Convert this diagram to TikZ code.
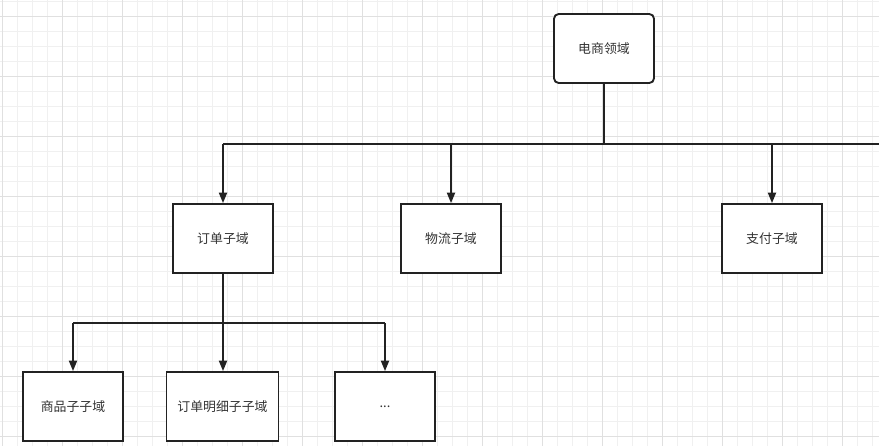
\documentclass[tikz,border=0pt]{standalone}
\usepackage{fontspec}
\newfontfamily\cjk{Noto Sans CJK SC}
\usetikzlibrary{arrows.meta,positioning}
\definecolor{gridminor}{HTML}{F0F0F0}
\definecolor{gridmajor}{HTML}{E0E0E0}
\definecolor{ink}{HTML}{222222}
\definecolor{txt}{HTML}{333333}
\tikzset{
  domainbox/.style={draw=ink, line width=1.6pt, fill=white, minimum width=3cm,
    minimum height=2.07cm, inner sep=0pt, font=\cjk\fontsize{11}{13}\selectfont, text=txt},
  link/.style={draw=ink, line width=1.4pt},
  arrow/.style={link, -{Triangle[length=9pt, width=7pt]}}
}
\begin{document}
\begin{tikzpicture}[x=0.03cm, y=-0.03cm]
  \useasboundingbox (0,0) rectangle (879,446);
  \fill[white] (0,0) rectangle (879,446);
  % Background grid
  \foreach \gx in {0,...,58} {
    \draw[gridminor, line width=0.7pt] (2.7+15*\gx,0) -- (2.7+15*\gx,446);
  }
  \foreach \gy in {0,...,29} {
    \draw[gridminor, line width=0.7pt] (0,1+15*\gy) -- (879,1+15*\gy);
  }
  \foreach \gx in {0,...,14} {
    \draw[gridmajor, line width=0.7pt] (2.7+60*\gx,0) -- (2.7+60*\gx,446);
  }
  \foreach \gy in {0,...,7} {
    \draw[gridmajor, line width=0.7pt] (0,16+60*\gy) -- (879,16+60*\gy);
  }
  % Top level
  \node[domainbox, rounded corners=4pt] (ecom) at (604,48.5) {电商领域};
  % Sub domains
  \node[domainbox] (order) at (223,238.5) {订单子域};
  \node[domainbox] (logistics) at (451,238.5) {物流子域};
  \node[domainbox] (payment) at (772,238.5) {支付子域};
  % Sub-sub domains
  \node[domainbox] (goods) at (73,406.5) {商品子子域};
  \node[domainbox, minimum width=3.36cm] (detail) at (222.5,406.5) {订单明细子子域};
  \node[domainbox] (more) at (385,406.5) {...};
  % Bus lines
  \coordinate (busL) at (223,144);
  \coordinate (busR) at (879,144);
  \coordinate (subL) at (73,323);
  \coordinate (subR) at (385,323);
  \draw[link] (ecom.south) -- (ecom.south |- busR);
  \draw[link] (busL) -- (busR);
  \draw[arrow] (busL) -- (order.north);
  \draw[arrow] (logistics.north |- busR) -- (logistics.north);
  \draw[arrow] (payment.north |- busR) -- (payment.north);
  \draw[link] (order.south) -- (order.south |- subL);
  \draw[link] (subL) -- (subR);
  \draw[arrow] (subL) -- (goods.north);
  \draw[arrow] (order.south |- subL) -- (detail.north -| order.south);
  \draw[arrow] (subR) -- (more.north);
\end{tikzpicture}
\end{document}
